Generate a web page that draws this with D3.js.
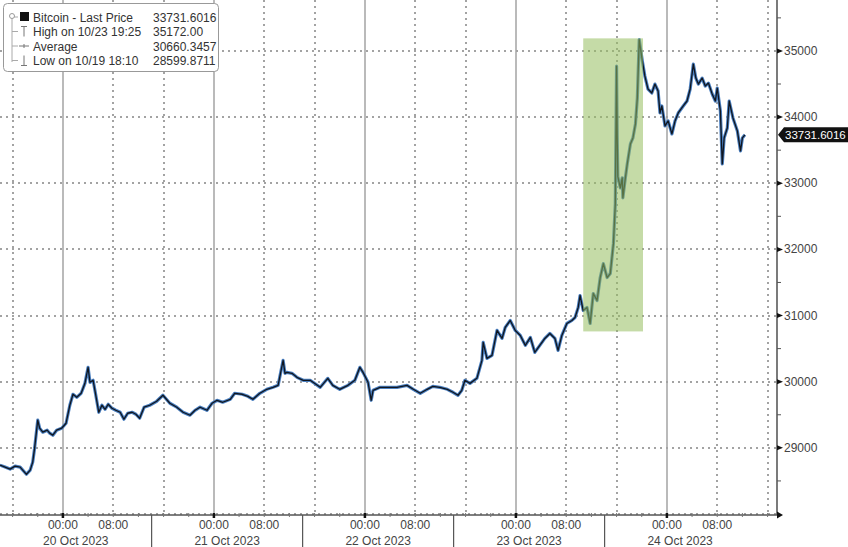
<!DOCTYPE html>
<html>
<head>
<meta charset="utf-8">
<script src="https://cdn.jsdelivr.net/npm/d3@7"></script>
<style>
  body { margin: 0; background: #fff; }
  svg { display: block; font-family: "Liberation Sans", Arial, sans-serif; }
</style>
</head>
<body>
<div id="chart"></div>
<script>
// hours after 20 Oct 2023 00:00, and last price
var hours = [-10.0, -9.2, -8.4, -7.6, -6.8, -5.8, -5.2, -4.8, -4.5, -4.0, -3.7, -3.2, -2.5, -2.1, -1.6, -1.0, -0.2,
  0.5, 1.1, 1.6, 2.2, 2.9, 3.5, 4.0, 4.3, 4.8, 5.2, 5.7, 6.2, 6.7, 7.2, 7.8, 8.4, 9.1, 9.7, 10.3, 11.0, 11.6, 12.2, 12.9,
  13.8, 14.9, 15.9, 17.0, 18.1, 19.1, 20.2, 21.0, 21.8, 22.9, 23.7, 24.5, 25.4, 26.6, 27.3, 28.5, 29.4, 30.2, 31.3,
  32.4, 33.4, 34.2, 35.0, 35.3, 35.6, 36.4, 37.2, 38.2, 39.3, 40.9, 42.1, 42.9, 44.0, 45.3, 46.4, 47.2, 47.7, 48.5,
  49.0, 49.3, 50.4, 51.5, 53.1, 54.7, 55.7, 56.8, 57.9, 58.8, 59.9, 61.1, 62.0, 62.8, 63.4, 63.9, 64.7, 65.8, 66.6,
  66.8, 67.4, 68.2, 69.0, 69.8, 70.3, 71.1, 71.9, 72.7, 73.5, 74.3, 75.0, 75.8, 76.6, 77.4, 78.2, 78.7, 79.3, 80.1,
  80.9, 81.4, 81.9, 82.2, 82.7, 83.3, 83.8, 84.3, 84.9, 85.4, 85.9, 86.5, 87.0, 87.5, 87.8, 88.0, 88.1, 88.2, 88.6,
  88.9, 89.0, 89.4, 89.7, 90.2, 90.6, 91.0, 91.3, 91.6, 92.1, 92.5, 93.0, 93.6, 94.1, 94.6, 94.9, 95.2, 95.7, 96.2,
  96.8, 97.3, 97.8, 98.6, 99.2, 99.7, 100.2, 100.6, 101.0, 101.6, 102.1, 102.6, 103.2, 103.7, 104.0, 104.5, 104.8,
  105.1, 105.6, 105.9, 106.5, 107.2, 107.7, 108.0, 108.4];
var prices = [28739, 28709, 28679, 28724, 28709, 28600, 28664, 28784, 28995, 29418, 29297, 29237, 29267, 29222, 29191, 29267, 29297,
  29372, 29644, 29810, 29764, 29825, 29975, 30217, 29991, 30021, 29810, 29538, 29644, 29583, 29659, 29598, 29568, 29538, 29433, 29523,
  29538, 29508, 29448, 29614, 29644, 29704, 29795, 29674, 29614, 29538, 29493, 29568, 29614, 29568, 29674, 29719, 29689, 29734, 29825,
  29810, 29779, 29734, 29825, 29885, 29915, 29945, 30322, 30126, 30141, 30126, 30066, 30021, 30021, 29915, 30051, 29945, 29885, 29945,
  30021, 30217, 30141, 29991, 29719, 29870, 29915, 29915, 29915, 29945, 29885, 29825, 29885, 29930, 29915, 29885, 29840, 29795, 29870,
  30021, 29975, 30051, 30322, 30594, 30352, 30398, 30775, 30654, 30820, 30926, 30775, 30699, 30549, 30669, 30443, 30549, 30654, 30729,
  30654, 30473, 30699, 30880, 30926, 30971, 31122, 31303, 31076, 31122, 30880, 31333, 31227, 31574, 31785, 31574, 31634, 32087, 32690,
  34770, 33700, 33100, 32930, 33082, 32780, 33082, 33293, 33595, 33685, 33896, 34288, 35172, 34846, 34620, 34424, 34364, 34499, 34394,
  34062, 34168, 33866, 33942, 33745, 33942, 34062, 34168, 34243, 34424, 34801, 34590, 34499, 34590, 34469, 34514, 34349, 34243, 34439,
  34092, 33293, 33685, 33836, 34243, 33987, 33791, 33489, 33685, 33732];

var yTicks = [29000, 30000, 31000, 32000, 33000, 34000, 35000];
var dayLabels = ["20 Oct 2023", "21 Oct 2023", "22 Oct 2023", "23 Oct 2023", "24 Oct 2023"];
var hourLabels = ["00:00", "08:00"];

// shaded window on 23 Oct (hours after 20 Oct 00:00) and its price band
var shadeHours = [82.7, 92.2];
var shadePrices = [30760, 35190];

var legendNames = ["Bitcoin - Last Price", "High on 10/23 19:25", "Average", "Low on 10/19 18:10"];
var legendValues = ["33731.6016", "35172.00", "30660.3457", "28599.8711"];
var lastPrice = 33731.6016;

var width = 848, height = 547;
var plotRight = 777, plotBottom = 514;
var t0 = new Date(2023, 9, 20, 0, 0);
function at(h) { return new Date(t0.getTime() + h * 3600000); }

var x = d3.scaleTime().domain([at(-10.0), at(113.5)]).range([0, plotRight]);
var y = d3.scaleLinear().domain([28000, 35770]).range([plotBottom, 0]);

var svg = d3.select("#chart").append("svg")
  .attr("width", width).attr("height", height);

// vertical grid: solid at midnight, dotted at 08:00 and 16:00
var gridHours = d3.range(-8, 113, 8);
svg.selectAll(".vgrid").data(gridHours).enter().append("line")
  .attr("x1", function(d) { return Math.round(x(at(d))); })
  .attr("x2", function(d) { return Math.round(x(at(d))); })
  .attr("y1", 0).attr("y2", plotBottom)
  .attr("stroke", function(d) { return d % 24 === 0 ? "#a9a9a9" : "#a3a3a3"; })
  .attr("stroke-width", function(d) { return d % 24 === 0 ? 1.6 : 2; })
  .attr("stroke-dasharray", function(d) { return d % 24 === 0 ? null : "2,4"; });

// horizontal grid
svg.selectAll(".hgrid").data(yTicks.concat([28000])).enter().append("line")
  .attr("x1", 0).attr("x2", plotRight)
  .attr("y1", function(d) { return Math.round(y(d)); })
  .attr("y2", function(d) { return Math.round(y(d)); })
  .attr("stroke", "#a3a3a3").attr("stroke-width", 2)
  .attr("stroke-dasharray", "2,4");

// price line
var pts = hours.map(function(h, i) { return [at(h), prices[i]]; });
var line = d3.line().x(function(d) { return x(d[0]); }).y(function(d) { return y(d[1]); });
svg.append("path").datum(pts).attr("d", line)
  .attr("fill", "none").attr("stroke", "#4a7fc0").attr("stroke-width", 3.2)
  .attr("stroke-linejoin", "round");
svg.append("path").datum(pts).attr("d", line)
  .attr("fill", "none").attr("stroke", "#10161f").attr("stroke-width", 1.3)
  .attr("stroke-linejoin", "round");

// green highlight
svg.append("rect")
  .attr("x", x(at(shadeHours[0])))
  .attr("width", x(at(shadeHours[1])) - x(at(shadeHours[0])))
  .attr("y", y(shadePrices[1]))
  .attr("height", y(shadePrices[0]) - y(shadePrices[1]))
  .attr("fill", "#96bd5e").attr("opacity", 0.55);

// right axis
var yAxis = svg.append("g");
yAxis.append("line").attr("x1", plotRight).attr("x2", plotRight)
  .attr("y1", 0).attr("y2", plotBottom + 1).attr("stroke", "#333").attr("stroke-width", 1.3);
yAxis.selectAll(".minor").data(d3.range(28500, 35770, 1000)).enter().append("line")
  .attr("x1", plotRight).attr("x2", plotRight + 4)
  .attr("y1", function(d) { return y(d); }).attr("y2", function(d) { return y(d); })
  .attr("stroke", "#555");
yAxis.selectAll(".major").data(yTicks).enter().append("path")
  .attr("d", function(d) { var yy = y(d); return "M" + plotRight + "," + (yy - 2.5) + "L" + (plotRight + 6) + "," + yy + "L" + plotRight + "," + (yy + 2.5) + "Z"; })
  .attr("fill", "#111");
yAxis.selectAll(".lbl").data(yTicks).enter().append("text")
  .attr("x", plotRight + 7).attr("y", function(d) { return y(d) + 4; })
  .attr("font-size", 12).attr("fill", "#444")
  .text(function(d) { return d; });

// last price tag
var ly = y(lastPrice);
svg.append("path")
  .attr("d", "M" + (plotRight + 1) + "," + ly + "L" + (plotRight + 7) + "," + (ly - 7.5) + "L848," + (ly - 7.5) + "L848," + (ly + 7.5) + "L" + (plotRight + 7) + "," + (ly + 7.5) + "Z")
  .attr("fill", "#111");
svg.append("text").attr("x", plotRight + 8).attr("y", ly + 4)
  .attr("font-size", 11.5).attr("fill", "#fff").text(d3.format(".4f")(lastPrice));

// bottom axis
var xAxis = svg.append("g");
xAxis.append("line").attr("x1", 0).attr("x2", plotRight)
  .attr("y1", plotBottom + 1).attr("y2", plotBottom + 1).attr("stroke", "#555").attr("stroke-width", 1.3);
xAxis.append("path")
  .attr("d", "M" + plotRight + "," + (plotBottom - 2.5) + "L" + (plotRight + 6) + "," + (plotBottom + 1) + "L" + plotRight + "," + (plotBottom + 4.5) + "Z")
  .attr("fill", "#111");
xAxis.selectAll(".xt").data(d3.range(-8, 113, 4)).enter().append("line")
  .attr("x1", function(d) { return x(at(d)); }).attr("x2", function(d) { return x(at(d)); })
  .attr("y1", plotBottom - 1).attr("y2", function(d) { return d % 24 === 0 ? plotBottom + 4 : plotBottom + 3; })
  .attr("stroke", function(d) { return d % 24 === 0 ? "#111" : "#777"; })
  .attr("stroke-width", function(d) { return d % 24 === 0 ? 2.5 : 1; });

var days = d3.range(0, 5);
days.forEach(function(dIdx) {
  hourLabels.forEach(function(lbl, j) {
    xAxis.append("text")
      .attr("x", x(at(dIdx * 24 + j * 8))).attr("y", plotBottom + 15)
      .attr("text-anchor", "middle").attr("font-size", 12).attr("fill", "#444")
      .text(lbl);
  });
});
// day separators under the axis
var seps = [14.1, 38.1, 62.1, 86.1];
xAxis.selectAll(".sep").data(seps).enter().append("line")
  .attr("x1", function(d) { return x(at(d)); }).attr("x2", function(d) { return x(at(d)); })
  .attr("y1", plotBottom + 1).attr("y2", height)
  .attr("stroke", "#555").attr("stroke-width", 1.2);
var bounds = [x.range()[0]].concat(seps.map(function(d) { return x(at(d)); })).concat([x(at(110.1))]);
xAxis.selectAll(".day").data(dayLabels).enter().append("text")
  .attr("x", function(d, i) { return (bounds[i] + bounds[i + 1]) / 2; })
  .attr("y", plotBottom + 31)
  .attr("text-anchor", "middle").attr("font-size", 12).attr("fill", "#444")
  .text(function(d) { return d; });

// legend
var lg = svg.append("g");
lg.append("rect").attr("x", 3.5).attr("y", 3.5).attr("width", 215).attr("height", 68)
  .attr("rx", 4).attr("fill", "#fff").attr("stroke", "#999");
var rowY = [17, 31.5, 46, 60.5];
lg.append("line").attr("x1", 12).attr("x2", 12).attr("y1", 14).attr("y2", 62).attr("stroke", "#aaa");
rowY.forEach(function(ry, i) {
  lg.append("line").attr("x1", 12).attr("x2", 18).attr("y1", ry).attr("y2", ry).attr("stroke", "#aaa");
  if (i === 0) {
    lg.append("circle").attr("cx", 12).attr("cy", ry - 1).attr("r", 2.5).attr("fill", "#fff").attr("stroke", "#999");
    lg.append("rect").attr("x", 20).attr("y", ry - 5).attr("width", 9).attr("height", 9).attr("fill", "#111");
  } else if (i === 1) {
    lg.append("path").attr("d", "M21," + (ry - 5) + "H27M24," + (ry - 5) + "V" + (ry + 5)).attr("stroke", "#777").attr("fill", "none");
  } else if (i === 2) {
    lg.append("path").attr("d", "M19," + ry + "H29M24," + (ry - 2) + "V" + (ry + 2)).attr("stroke", "#777").attr("fill", "none");
  } else {
    lg.append("path").attr("d", "M21," + (ry + 5) + "H27M24," + (ry - 5) + "V" + (ry + 5)).attr("stroke", "#777").attr("fill", "none");
  }
  lg.append("text").attr("x", 33).attr("y", ry + 4.5)
    .attr("font-size", 12).attr("fill", "#333").text(legendNames[i]);
  lg.append("text").attr("x", 153).attr("y", ry + 4.5)
    .attr("font-size", 12).attr("fill", "#333").text(legendValues[i]);
});
</script>
</body>
</html>
